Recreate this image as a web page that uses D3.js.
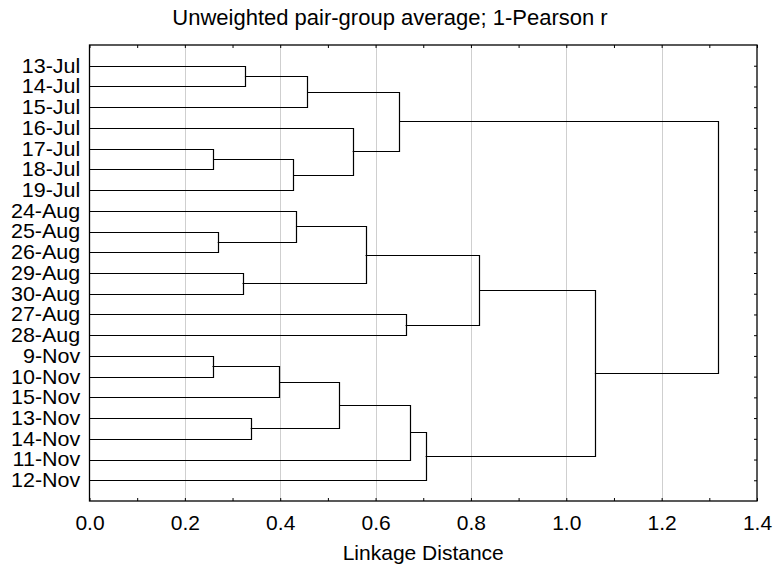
<!DOCTYPE html>
<html>
<head>
<meta charset="utf-8">
<script src="https://cdn.jsdelivr.net/npm/d3@7"></script>
<style>
  html, body { margin: 0; padding: 0; background: #fff; }
  svg { display: block; font-family: "Liberation Sans", Arial, sans-serif; }
</style>
</head>
<body>
<svg id="chart" width="775" height="575"></svg>
<script>
// Leaf labels in display order
const leaves = ["13-Jul","14-Jul","15-Jul","16-Jul","17-Jul","18-Jul","19-Jul",
                "24-Aug","25-Aug","26-Aug","29-Aug","30-Aug","27-Aug","28-Aug",
                "9-Nov","10-Nov","15-Nov","13-Nov","14-Nov","11-Nov","12-Nov"];
// Merge steps: [child1, child2, linkage distance]; ids < 21 are leaves, id 21+k is merge k
const mergeA = [0, 21, 4, 23, 3, 22, 8, 7, 10, 28, 12, 30, 14, 33, 17, 34, 36, 37, 32, 26];
const mergeB = [1, 2, 5, 6, 24, 25, 9, 27, 11, 29, 13, 31, 15, 16, 18, 35, 19, 20, 38, 39];
const mergeH = [0.326, 0.457, 0.259, 0.427, 0.552, 0.650, 0.269, 0.433, 0.321, 0.579,
                0.663, 0.817, 0.258, 0.398, 0.338, 0.524, 0.673, 0.705, 1.060, 1.318];
const xTicks = [0.0, 0.2, 0.4, 0.6, 0.8, 1.0, 1.2, 1.4];
const xMinorTicks = [0.1, 0.3, 0.5, 0.7, 0.9, 1.1, 1.3];
const gridTicks = [0.2, 0.4, 0.6, 0.8, 1.0, 1.2];
const titleText = "Unweighted pair-group average; 1-Pearson r";
const xLabelText = "Linkage Distance";

const svg = d3.select("#chart");
const L = 89.5, R = 757, T = 45, B = 501;
const FF = "Liberation Sans, Arial, sans-serif";

const x = d3.scaleLinear().domain([0, 1.4]).range([L, R]);
const y = d3.scalePoint().domain(leaves).range([T, B]).padding(1);

// gridlines
svg.append("g").selectAll("line").data(gridTicks).join("line")
  .attr("x1", d => Math.round(x(d)) + 0.5).attr("x2", d => Math.round(x(d)) + 0.5)
  .attr("y1", T).attr("y2", B)
  .attr("stroke", "#cfcfcf").attr("stroke-width", 1);

// compute node positions
const n = leaves.length;
const nodeX = [], nodeY = [];
leaves.forEach((l, i) => { nodeX[i] = 0; nodeY[i] = y(l); });
mergeH.forEach((h, k) => {
  const a = mergeA[k], b = mergeB[k];
  nodeX[n + k] = h;
  nodeY[n + k] = (nodeY[a] + nodeY[b]) / 2;
});

const links = mergeH.map((h, k) => ({a: mergeA[k], b: mergeB[k], h}));
svg.append("g").selectAll("path").data(links).join("path")
  .attr("fill", "none").attr("stroke", "#000").attr("stroke-width", 1.2)
  .attr("d", d => {
    const ya = Math.round(nodeY[d.a]) + 0.5, yb = Math.round(nodeY[d.b]) + 0.5;
    const xm = Math.round(x(d.h)) + 0.5;
    return `M${x(nodeX[d.a])},${ya}H${xm}V${yb}H${x(nodeX[d.b])}`;
  });

// frame
svg.append("rect").attr("x", L).attr("y", T).attr("width", R - L).attr("height", B - T)
  .attr("fill", "none").attr("stroke", "#000").attr("stroke-width", 1.3);

// bottom axis: labels + inward ticks
const allTicks = xTicks.concat(xMinorTicks).sort((a, b) => a - b);
const gB = svg.append("g").attr("transform", `translate(0,${B})`)
  .call(d3.axisBottom(x).tickValues(allTicks).tickSizeInner(-3).tickSizeOuter(0).tickPadding(14)
    .tickFormat(d => xTicks.some(t => Math.abs(t - d) < 1e-9) ? d3.format(".1f")(d) : ""));
gB.select(".domain").remove();
gB.selectAll("text").attr("font-size", 21).attr("font-family", FF).attr("fill", "#000");
gB.selectAll("line").attr("stroke", "#000");

// top axis: inward ticks
const gT = svg.append("g").attr("transform", `translate(0,${T})`)
  .call(d3.axisTop(x).tickValues(allTicks).tickSizeInner(-3).tickSizeOuter(0).tickFormat(""));
gT.select(".domain").remove();
gT.selectAll("line").attr("stroke", "#000");

// right axis: inward ticks at leaves
const gR = svg.append("g").attr("transform", `translate(${R},0)`)
  .call(d3.axisRight(y).tickSizeInner(-3).tickSizeOuter(0).tickFormat(""));
gR.select(".domain").remove();
gR.selectAll("line").attr("stroke", "#000");

// left axis: leaf labels
const gL = svg.append("g").attr("transform", `translate(${L},0)`)
  .call(d3.axisLeft(y).tickSize(0).tickPadding(9));
gL.select(".domain").remove();
gL.selectAll("text").attr("font-size", 20).attr("font-family", FF).attr("fill", "#000")
  .attr("x", -8.6).attr("transform", "scale(1.075,1)");

// title
svg.append("text").attr("x", 390).attr("y", 25).attr("text-anchor", "middle")
  .attr("font-size", 22).attr("font-family", FF).attr("fill", "#000").text(titleText);

// x label
svg.append("text").attr("x", (L + R) / 2).attr("y", 560).attr("text-anchor", "middle")
  .attr("font-size", 21).attr("font-family", FF).attr("fill", "#000").text(xLabelText);
</script>
</body>
</html>
